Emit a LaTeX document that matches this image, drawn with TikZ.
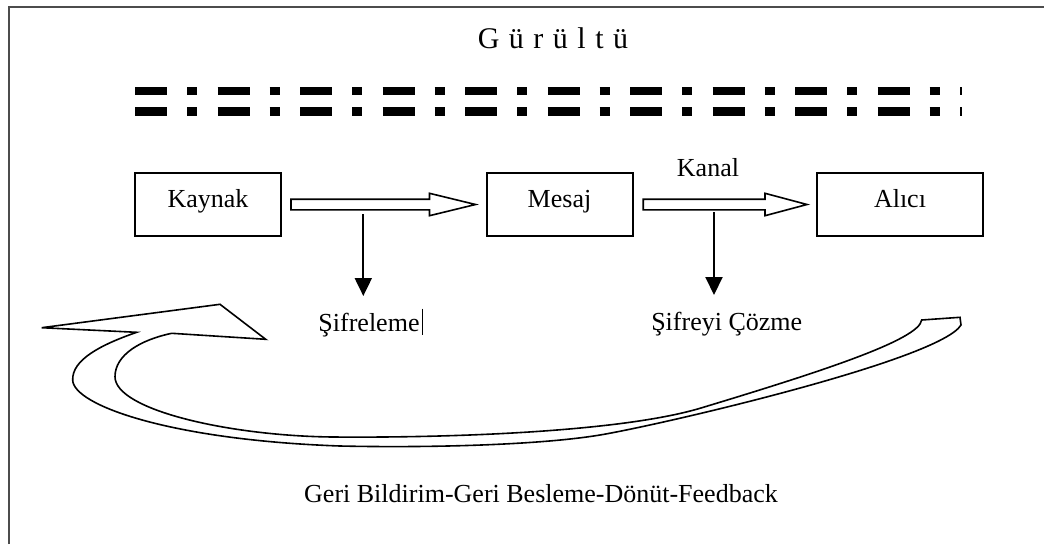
\documentclass[tikz,border=0pt]{standalone}
\usepackage{fontspec}
\setmainfont{Liberation Serif}
\usetikzlibrary{arrows.meta, calc}

\begin{document}
\begin{tikzpicture}[x=1pt,y=-1pt,
    kutu/.style={draw, line width=2pt, minimum width=146pt, minimum height=63pt, inner sep=0pt,
        text height=17pt, text depth=10.5pt, font=\fontsize{26}{30}\selectfont},
    etiket/.style={inner sep=0pt, font=\fontsize{26}{30}\selectfont},
    hollow/.style={draw, fill=white, line width=1.6pt, line join=miter},
    downarrow/.style={line width=2pt, -{Triangle[length=18pt,width=17pt]}}]
        \useasboundingbox (0,0) rectangle (1044,544);
        
        % frame
        \draw[line width=2pt, black!70] (9,544) -- (9,7) -- (1044,7);
        
        % noise
        \node[etiket, anchor=base, font=\fontsize{30}{36}\selectfont] (gurultu) at (553,48.3) {\spaceskip=9.5pt\relax G ü r ü l t ü};
        \draw[line width=8.3pt, dash pattern=on 32pt off 20pt on 10pt off 20.5pt] (135,90.8) -- (962,90.8);
        \draw[line width=8.3pt, dash pattern=on 32pt off 20pt on 10pt off 20.5pt] (135,111.5) -- (962,111.5);
        
        % boxes
        \node[kutu] (kaynak) at (208,204.5) {Kaynak};
        \node[kutu] (mesaj) at (559.5,204.5) {Mesaj};
        \node[kutu, minimum width=166pt] (alici) at (900,204.5) {Alıcı};
        
        % block arrows
        \coordinate (a1) at ($(kaynak.east)+(9,0)$);
        \coordinate (a2) at ($(mesaj.west)+(-10,0)$);
        \coordinate (a3) at ($(mesaj.east)+(9.7,0)$);
        \coordinate (a4) at ($(alici.west)+(-9,0)$);
        \draw[hollow] ($(a1)+(0,-5.3)$) -- ($(a2)+(-46,-5.3)$) -- ($(a2)+(-46,-11.2)$) -- (a2)
            -- ($(a2)+(-46,11.2)$) -- ($(a2)+(-46,5.3)$) -- ($(a1)+(0,5.3)$) -- cycle;
        \draw[hollow] ($(a3)+(0,-5.3)$) -- ($(a4)+(-42,-5.3)$) -- ($(a4)+(-42,-11.2)$) -- (a4)
            -- ($(a4)+(-42,11.2)$) -- ($(a4)+(-42,5.3)$) -- ($(a3)+(0,5.3)$) -- cycle;
        
        % labels
        \node[etiket, anchor=base] (kanal) at (708,176) {Kanal};
        \node[etiket, anchor=base] (sifreleme) at (369,331) {Şifreleme};
        \node[etiket, anchor=base] (cozme) at (726.7,330) {Şifreyi Çözme};
        \node[etiket, anchor=base] (feedback) at (541,502.3) {Geri Bildirim-Geri Besleme-Dönüt-Feedback};
        \draw[line width=0.9pt] ($(sifreleme.east)+(3,-16)$) -- ($(sifreleme.east)+(3,10)$);
        
        % down arrows
        \coordinate (enc) at (363.3,214);
        \coordinate (dec) at (714,212);
        \draw[downarrow] (enc) -- (enc |- 0,296);
        \draw[downarrow] (dec) -- (dec |- 0,295);
        
        % feedback arrow
        \draw[hollow] (41.7,327.7) -- (136.7,332.3)
            .. controls (100,345) and (72,360) .. (72.7,380)
            .. controls (73,405) and (170,440) .. (340,446)
            .. controls (430,448) and (540,445) .. (600,435)
            .. controls (660,425) and (940,360) .. (961,325)
            -- (960,317.3) -- (921.7,320)
            .. controls (919,340) and (820,372) .. (700,408.3)
            .. controls (620,432) and (450,438) .. (333,437)
            .. controls (230,436) and (115,410) .. (115,376.7)
            .. controls (115,355) and (140,340) .. (171.7,333.3)
            -- (265.7,339.3) -- (220,304.3) -- cycle;
    \end{tikzpicture}
\end{document}
